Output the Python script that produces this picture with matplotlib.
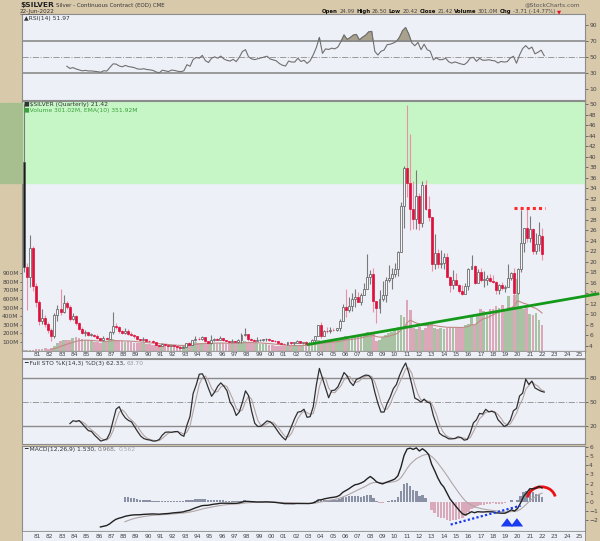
import numpy as np
import matplotlib.pyplot as plt
from matplotlib.patches import Rectangle, Arc
from matplotlib.transforms import blended_transform_factory

# quarterly $SILVER, 1980Q1 .. 2022Q2
closes = [
    19.0, 17.1, 22.6, 15.4,   # 1980
    12.4, 8.8, 9.4, 8.2,      # 1981
    7.0, 5.9, 9.8, 11.0,      # 1982
    10.5, 12.2, 11.5, 9.2,    # 1983
    9.7, 8.3, 7.3, 6.4,       # 1984
    6.6, 6.1, 6.1, 5.8,       # 1985
    5.5, 5.1, 5.6, 5.4,       # 1986
    6.6, 7.8, 7.7, 6.8,       # 1987
    6.4, 6.8, 6.3, 6.1,       # 1988
    5.8, 5.3, 5.2, 5.3,       # 1989
    5.0, 4.9, 4.7, 4.2,       # 1990
    3.9, 4.3, 4.1, 3.9,       # 1991
    4.1, 4.0, 3.8, 3.7,       # 1992
    3.8, 4.5, 4.2, 5.1,       # 1993
    5.4, 5.3, 5.7, 4.9,       # 1994
    4.6, 5.2, 5.4, 5.2,       # 1995
    5.5, 5.1, 4.9, 4.8,       # 1996
    5.0, 4.7, 5.2, 6.0,       # 1997
    6.3, 5.4, 5.1, 5.0,       # 1998
    5.1, 5.2, 5.3, 5.4,       # 1999
    5.1, 5.0, 4.9, 4.6,       # 2000
    4.4, 4.3, 4.7, 4.6,       # 2001
    4.6, 4.9, 4.6, 4.7,       # 2002
    4.4, 4.6, 5.1, 5.9,       # 2003
    7.9, 5.9, 6.9, 6.8,       # 2004
    7.1, 7.0, 7.4, 8.8,       # 2005
    11.5, 10.8, 11.6, 12.9,   # 2006
    13.3, 12.4, 13.7, 14.8,   # 2007
    17.2, 17.6, 12.6, 11.3,   # 2008
    13.0, 13.6, 16.6, 16.9,   # 2009
    17.6, 18.6, 21.9, 30.6,   # 2010
    37.9, 34.9, 30.1, 28.2,   # 2011
    32.5, 27.4, 34.6, 30.0,   # 2012
    28.6, 19.5, 21.7, 19.5,   # 2013
    19.7, 21.0, 17.1, 15.6,   # 2014
    16.6, 15.6, 14.5, 13.8,   # 2015
    15.4, 18.7, 19.2, 15.9,   # 2016
    18.1, 16.6, 16.6, 16.9,   # 2017
    16.4, 16.1, 14.7, 15.5,   # 2018
    15.1, 15.3, 17.0, 17.9,   # 2019
    14.0, 18.7, 23.6, 26.4,   # 2020
    24.5, 26.2, 22.0, 23.3,   # 2021
    25.1, 21.42,              # 2022
]
highs = [
    50.0, 19.8, 25.1, 23.0,
    16.0, 12.8, 11.0, 9.8,
    8.5, 7.4, 10.3, 11.8,
    14.9, 13.7, 12.6, 11.8,
    10.2, 9.9, 8.6, 7.6,
    7.0, 6.6, 6.4, 6.3,
    6.2, 5.6, 5.8, 5.7,
    6.8, 10.5, 8.3, 7.8,
    7.0, 7.5, 7.3, 6.6,
    6.2, 5.9, 5.4, 5.7,
    5.4, 5.2, 5.1, 4.8,
    4.2, 4.5, 4.4, 4.2,
    4.2, 4.2, 4.0, 3.9,
    3.9, 4.6, 4.7, 5.2,
    5.8, 5.7, 5.8, 5.7,
    5.0, 6.0, 5.6, 5.6,
    5.8, 5.6, 5.2, 5.0,
    5.4, 5.0, 5.3, 6.4,
    7.5, 6.3, 5.6, 5.3,
    5.7, 5.4, 5.4, 5.6,
    5.5, 5.1, 5.1, 5.0,
    4.8, 4.6, 4.8, 4.8,
    4.8, 5.1, 4.9, 4.8,
    4.9, 4.7, 5.4, 5.9,
    8.0, 8.5, 7.0, 7.6,
    7.6, 7.5, 7.5, 9.2,
    12.0, 14.9, 13.3, 14.1,
    14.9, 14.2, 14.0, 15.9,
    21.4, 18.4, 18.8, 12.6,
    14.6, 16.3, 17.2, 19.4,
    18.9, 19.8, 22.1, 31.3,
    38.2, 49.8, 44.3, 35.4,
    37.5, 33.0, 35.4, 35.5,
    32.5, 28.6, 25.2, 22.5,
    22.2, 21.6, 21.6, 17.3,
    18.5, 17.8, 15.8, 15.6,
    16.0, 18.8, 21.2, 19.4,
    18.6, 18.8, 18.3, 17.5,
    17.7, 17.4, 16.3, 15.7,
    16.2, 15.6, 19.6, 18.0,
    18.9, 18.8, 29.9, 26.4,
    30.3, 28.8, 26.5, 25.4,
    27.5, 26.5,
]
lows = [
    18.0, 10.8, 15.2, 14.5,
    11.5, 8.0, 8.2, 7.6,
    6.5, 4.9, 5.5, 8.8,
    9.8, 10.2, 11.0, 8.8,
    8.9, 8.0, 7.0, 6.2,
    5.9, 5.9, 5.9, 5.7,
    5.4, 5.0, 5.0, 5.3,
    5.4, 6.2, 7.2, 6.5,
    6.2, 6.2, 6.1, 5.9,
    5.6, 5.1, 5.0, 5.0,
    4.9, 4.8, 4.6, 4.1,
    3.6, 3.9, 3.9, 3.8,
    3.9, 3.9, 3.7, 3.6,
    3.6, 3.8, 4.1, 4.2,
    5.0, 5.2, 5.2, 4.8,
    4.4, 4.4, 5.0, 5.1,
    5.1, 5.0, 4.8, 4.6,
    4.7, 4.6, 4.5, 4.5,
    5.8, 5.0, 4.9, 4.8,
    4.9, 4.9, 5.0, 5.0,
    5.0, 4.9, 4.8, 4.6,
    4.3, 4.2, 4.1, 4.2,
    4.2, 4.5, 4.5, 4.4,
    4.3, 4.3, 4.5, 4.8,
    5.8, 5.5, 5.8, 6.4,
    6.4, 6.8, 6.8, 6.9,
    8.7, 9.5, 10.5, 10.6,
    11.5, 12.3, 11.7, 13.7,
    14.9, 15.7, 10.4, 8.4,
    10.3, 12.6, 12.4, 16.1,
    14.8, 17.1, 17.3, 21.9,
    26.4, 32.3, 26.1, 26.2,
    26.2, 26.1, 26.6, 29.8,
    27.8, 18.2, 18.6, 18.9,
    18.8, 18.6, 17.1, 14.2,
    14.9, 15.5, 14.1, 13.6,
    13.8, 14.7, 18.7, 15.7,
    15.9, 16.1, 15.2, 15.6,
    16.2, 16.0, 13.9, 13.9,
    14.6, 14.3, 15.2, 16.5,
    11.7, 13.8, 18.0, 21.9,
    23.8, 23.8, 21.4, 21.4,
    22.0, 20.42,
]
volume_m = [
    5, 8, 10, 12,
    15, 20, 25, 30,
    20, 30, 50, 90,
    110, 130, 125, 130,
    150, 160, 150, 140,
    130, 120, 110, 105,
    100, 95, 100, 110,
    125, 140, 120, 110,
    115, 105, 110, 100,
    95, 90, 85, 85,
    80, 75, 70, 70,
    65, 65, 60, 60,
    55, 55, 50, 50,
    60, 75, 80, 90,
    100, 95, 95, 90,
    90, 100, 95, 90,
    90, 85, 80, 80,
    85, 90, 95, 100,
    110, 100, 95, 90,
    85, 80, 80, 75,
    70, 65, 60, 55,
    50, 50, 50, 50,
    55, 60, 60, 65,
    70, 75, 85, 95,
    120, 110, 105, 110,
    115, 110, 120, 130,
    150, 165, 140, 145,
    160, 170, 180, 190,
    215, 200, 190, 110,
    130, 160, 180, 200,
    220, 240, 270, 420,
    390, 590, 470, 260,
    250, 270, 240, 260,
    300, 330, 260, 250,
    260, 250, 260, 270,
    270, 275, 270, 260,
    300, 310, 390, 300,
    430, 480, 460, 420,
    480, 490, 520, 500,
    530, 480, 640, 500,
    650, 830, 500, 480,
    500, 430, 420, 440,
    360, 300,
]
first_open = 39.0
last_open = 24.99
year_labels = ['%02d' % (y % 100) for y in range(1981, 2026)]

W, H = 600, 541
TAN = '#d9c9ab'
PANEL = '#eef0f8'
T0, T1 = 1979.86, 2025.56


def px_rect(x0, y0, x1, y1):
    return [x0 / W, 1 - y1 / H, (x1 - x0) / W, (y1 - y0) / H]


def ema(x, n):
    out = np.full(len(x), np.nan)
    x = np.asarray(x, float)
    start = np.argmax(~np.isnan(x))
    if len(x) - start < n:
        return out
    out[start + n - 1] = x[start:start + n].mean()
    a = 2.0 / (n + 1)
    for i in range(start + n, len(x)):
        out[i] = a * x[i] + (1 - a) * out[i - 1]
    return out


def sma(x, n):
    out = np.full(len(x), np.nan)
    for i in range(n - 1, len(x)):
        out[i] = np.mean(x[i - n + 1:i + 1])
    return out


def rsi(c, n=14):
    d = np.diff(c)
    g = np.where(d > 0, d, 0.0)
    l = np.where(d < 0, -d, 0.0)
    out = np.full(len(c), np.nan)
    ag, al = g[:n].mean(), l[:n].mean()
    out[n] = 100 - 100 / (1 + ag / al)
    for i in range(n + 1, len(c)):
        ag = (ag * (n - 1) + g[i - 1]) / n
        al = (al * (n - 1) + l[i - 1]) / n
        out[i] = 100 - 100 / (1 + ag / al)
    return out


def full_sto(c, h, l, n=14):
    fast = np.full(len(c), np.nan)
    for i in range(n - 1, len(c)):
        hh, ll = h[i - n + 1:i + 1].max(), l[i - n + 1:i + 1].min()
        fast[i] = 100 * (c[i] - ll) / (hh - ll)
    k = sma(fast, 3)
    d = sma(k, 3)
    return k, d


def style(ax, dates=False):
    ax.set_facecolor(PANEL)
    for s in ax.spines.values():
        s.set_color('#8c8c8c')
        s.set_linewidth(0.8)
    ax.set_xlim(T0, T1)
    ax.yaxis.tick_right()
    ax.tick_params(axis='y', labelsize=4.3, colors='#444444', length=2,
                   width=0.5, pad=1)
    if dates:
        ax.set_xticks(np.arange(1981, 2026))
        ax.set_xticks(np.arange(1980, 2026, 0.25), minor=True)
        ax.tick_params(axis='x', which='both', direction='out', length=1.5,
                       width=0.5, colors='#666666', labelbottom=False)
    else:
        ax.set_xticks([])


def date_strip(y0, y1):
    s = fig.add_axes(px_rect(22, y0, 585, y1))
    s.set_facecolor(PANEL)
    for sp in s.spines.values():
        sp.set_color('#8c8c8c')
        sp.set_linewidth(0.6)
    s.set_xlim(T0, T1)
    s.set_xticks([])
    s.set_yticks([])
    tr = blended_transform_factory(s.transData, s.transAxes)
    for yr, lab in zip(range(1981, 2026), year_labels):
        s.text(yr + 0.1, 0.45, lab, transform=tr, ha='center', va='center',
               fontsize=4.2, color='#444444')


def chain_text(x, y, parts, gap=2, **kw):
    # parts: (text, colour, weight, size)
    r = fig.canvas.get_renderer()
    for s, c, wt, sz in parts:
        txt = fig.text(x / W, 1 - y / H, s, color=c, va='center',
                       fontweight=wt, fontsize=sz, **kw)
        bb = txt.get_window_extent(renderer=r)
        x = bb.x1 + gap


c = np.array(closes)
h = np.array(highs)
l = np.array(lows)
vol = np.array(volume_m, float)
n = len(c)
t = 1980 + 0.25 * np.arange(n)
o = np.r_[first_open, c[:-1]]
o[-1] = last_open
prev = np.r_[10.0, c[:-1]]

fig = plt.figure(figsize=(W / 100, H / 100), dpi=100, facecolor=TAN)

# header
chain_text(20, 5, [('$SILVER', '#222222', 'bold', 5.4),
                   ('Silver - Continuous Contract (EOD) CME', '#333333',
                    'normal', 4.0)], gap=2)
fig.text(20 / W, 1 - 11 / H, '22-Jun-2022', fontsize=4.1, color='#333333',
         va='center')
fig.lines.append(plt.Line2D([20 / W, 45 / W], [1 - 14 / H, 1 - 14 / H],
                            transform=fig.transFigure, color='#555555',
                            lw=0.4))
fig.text(580 / W, 1 - 4.5 / H, '@StockCharts.com', fontsize=4.2,
         color='#555555', va='center', ha='right')
bold_s, norm_s = 3.9, 3.9
chain_text(322, 11.5, [('Open', '#111111', 'bold', bold_s),
                       ('24.99', '#444444', 'normal', norm_s),
                       ('High', '#111111', 'bold', bold_s),
                       ('26.50', '#444444', 'normal', norm_s),
                       ('Low', '#111111', 'bold', bold_s),
                       ('20.42', '#444444', 'normal', norm_s),
                       ('Close', '#111111', 'bold', bold_s),
                       ('21.42', '#444444', 'normal', norm_s),
                       ('Volume', '#111111', 'bold', bold_s),
                       ('301.0M', '#444444', 'normal', norm_s),
                       ('Chg', '#111111', 'bold', bold_s),
                       ('-3.71 (-14.77%)', '#444444', 'normal', norm_s),
                       ('\u25bc', '#dd1133', 'normal', norm_s)], gap=1.5)

# left margin shading next to the green zone
fig.patches.append(Rectangle((0, 1 - 183 / H), 22 / W, 80 / H,
                             transform=fig.transFigure, color='#a7bf8f',
                             zorder=0))

# RSI panel
ax_rsi = fig.add_axes(px_rect(22, 14, 585, 100))
style(ax_rsi)
ax_rsi.set_ylim(-3.4, 104.1)
ax_rsi.set_yticks([10, 30, 50, 70, 90])
r = rsi(c)
ax_rsi.axhline(70, color='#8a8a8a', lw=1.2)
ax_rsi.axhline(30, color='#8a8a8a', lw=1.2)
ax_rsi.axhline(50, color='#9a9a9a', lw=0.7, ls='-.')
ax_rsi.fill_between(t, r, 70, where=r > 70, interpolate=True,
                    color='#a8a28c', edgecolor='#777777', lw=0.5)
ax_rsi.plot(t, r, color='#707070', lw=0.8)
fig.text(24 / W, 1 - 18.5 / H, '\u25b2RSI(14) 51.97', fontsize=4.3,
         color='#333333', va='center')

# price + volume panel
rect_px = px_rect(22, 101, 585, 350.7)
ax_vol = fig.add_axes(rect_px)
style(ax_vol, dates=True)
ax_vol.yaxis.tick_left()
ax_vol.set_ylim(0, 2900)
ax_vol.set_yticks(np.arange(100, 1000, 100))
ax_vol.set_yticklabels(['%dM' % v for v in range(100, 1000, 100)])
ax_vol.tick_params(axis='y', labelsize=4.2, length=1.5, pad=1)
vcol = np.where(c >= prev, '#a9c2a3', '#dba7b9')
ax_vol.bar(t, vol, width=0.22, color=vcol, edgecolor='none')
ax_vol.plot(t, ema(vol, 10), color='#c08a86', lw=0.8)

ax_px = fig.add_axes(rect_px)
style(ax_px, dates=True)
ax_px.set_facecolor('none')
ax_px.set_ylim(3.1, 50.57)
ax_px.set_yticks(np.arange(4, 51, 2))
ax_px.axhspan(35, 55, color='#c6f6c6', zorder=0)
red = c < prev
filled = c < o
wick_col = np.where(red, '#e891a2', '#7a7a7a')
ax_px.vlines(t, l, h, colors=wick_col, lw=0.8, zorder=2)
face = np.where(filled, np.where(red, '#e0103c', '#1a1a1a'), '#f6f6f8')
edge = np.where(red, '#e0103c', '#555555')
body = np.maximum(np.abs(c - o), 0.08)
ax_px.bar(t, body, bottom=np.minimum(c, o), width=0.16, color=face,
          edgecolor=edge, lw=0.5, zorder=3)
ax_px.hlines(30.3, 2020.0, 2022.5, colors='#ff2a2a', lw=2.2,
             linestyles=(0, (1, 1)), zorder=4)
ax_px.plot([2003.2, 2026.8], [4.3, 13.9], color='#14991a', lw=2,
           clip_on=False, zorder=5)
fig.text(24 / W, 1 - 104.5 / H, '\u25a0$SILVER (Quarterly) 21.42',
         fontsize=4.3, color='#333333', va='center')
fig.text(24 / W, 1 - 110.5 / H, '\u25a0Volume 301.02M, EMA(10) 351.92M',
         fontsize=4.3, color='#3aa03a', va='center')
date_strip(350.7, 358)

# Full stochastic panel
ax_sto = fig.add_axes(px_rect(22, 359, 585, 444))
style(ax_sto)
ax_sto.set_ylim(-1.85, 103.1)
ax_sto.set_yticks([20, 50, 80])
k, d = full_sto(c, h, l)
ax_sto.axhline(80, color='#8a8a8a', lw=1.0)
ax_sto.axhline(20, color='#8a8a8a', lw=1.0)
ax_sto.axhline(50, color='#9a9a9a', lw=0.7, ls='-.')
ax_sto.plot(t, d, color='#b4a4a4', lw=0.8)
ax_sto.plot(t, k, color='#303030', lw=0.9)
chain_text(24, 363.5, [('\u2501 Full STO %K(14,3) %D(3) 62.33,', '#333333',
                        'normal', 4.3),
                       ('63.70', '#999999', 'normal', 4.3)])

# MACD panel
ax_macd = fig.add_axes(px_rect(22, 446, 585, 531))
style(ax_macd, dates=True)
ax_macd.set_ylim(-3.15, 6.09)
ax_macd.set_yticks(np.arange(-2, 7))
fast = ema(c, 12)
slow = ema(c, 26)
macd = fast - slow
sig = ema(macd, 9)
hist = macd - sig
ax_macd.bar(t, hist, width=0.2, color=np.where(hist >= 0, '#8b91a5', '#d9a9b9'),
            edgecolor='none')
ax_macd.plot(t, sig, color='#b0a6a6', lw=0.8)
ax_macd.plot(t, macd, color='#222222', lw=1.0)
ax_macd.plot([2014.8, 2020.5], [-2.45, -0.4], color='#1a3cf0', lw=1.6,
             ls=(0, (1, 1)))
for xa in (2019.4, 2020.2):
    ax_macd.annotate('', xy=(xa, -1.45), xytext=(xa, -2.5),
                     arrowprops=dict(arrowstyle='simple,head_width=0.9,head_length=0.6,tail_width=0.4',
                                     color='#1a3cf0', lw=0))
ax_macd.add_patch(Arc((2022.2, 0.3), 2.3, 2.7, theta1=15, theta2=170,
                      color='#ee1111', lw=2))
chain_text(24, 449.5, [('\u2501 MACD(12,26,9) 1.530,', '#333333', 'normal', 4.3),
                       ('0.968,', '#777777', 'normal', 4.3),
                       ('0.562', '#aaaaaa', 'normal', 4.3)])
date_strip(531, 541)

fig.savefig('out.png', dpi=100, facecolor=TAN)
